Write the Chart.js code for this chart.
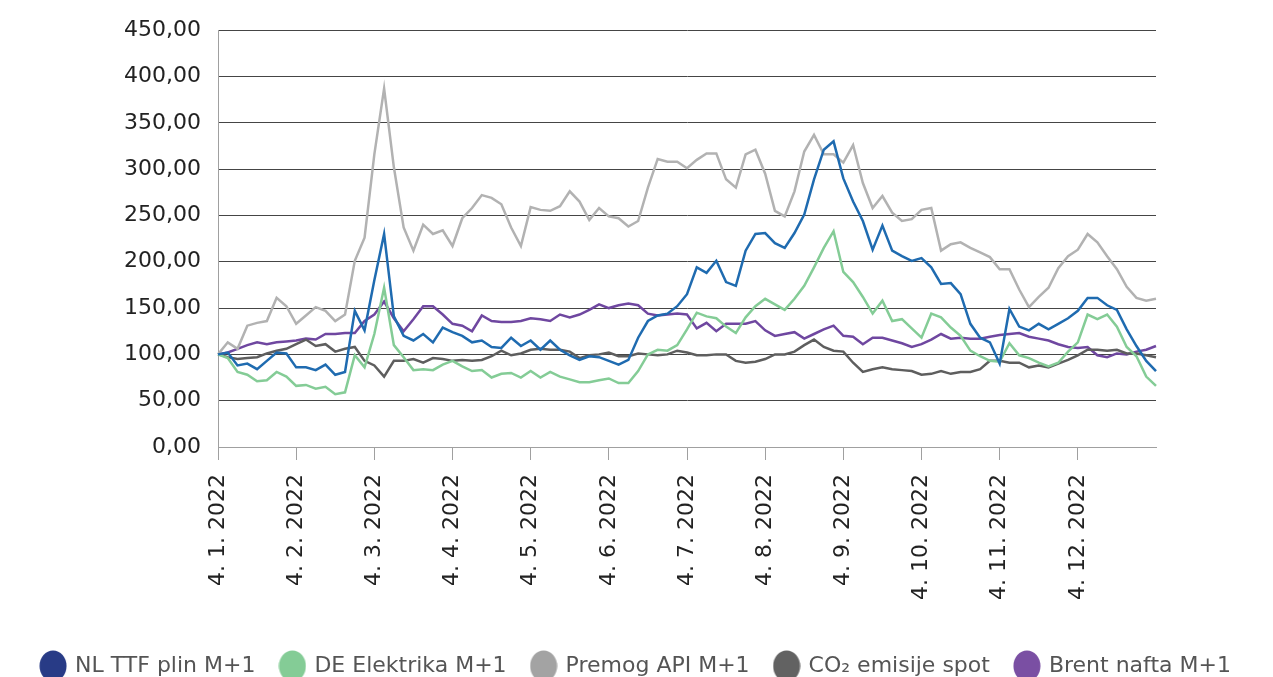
<!DOCTYPE html>
<html>
<head>
<meta charset="utf-8">
<script src="https://cdn.jsdelivr.net/npm/chart.js@4.4.1/dist/chart.umd.min.js"></script>
<style>
  html, body { margin: 0; padding: 0; background: #fff; }
  #wrap { width: 1273px; height: 677px; position: relative; }
</style>
</head>
<body>
<div id="wrap"><canvas id="chart"></canvas></div>
<script>
// tick labels, one every 8 points
const monthTicks = ['4. 1. 2022', '4. 2. 2022', '4. 3. 2022', '4. 4. 2022', '4. 5. 2022', '4. 6. 2022',
  '4. 7. 2022', '4. 8. 2022', '4. 9. 2022', '4. 10. 2022', '4. 11. 2022', '4. 12. 2022'];
const pointsPerMonth = 8;

const seriesNames = ['NL TTF plin M+1', 'DE Elektrika M+1', 'Premog API M+1', 'CO\u2082 emisije spot', 'Brent nafta M+1'];

const ttf = [100, 102, 88, 90, 84, 93, 102, 101, 86, 86, 83, 89, 78, 81, 147, 126,
  180, 230, 141, 120, 115, 122, 113, 129, 124, 120, 113, 115, 108, 107, 118, 109,
  115, 105, 115, 105, 99, 94, 98, 97, 93, 89, 94, 118, 136, 142, 144, 152,
  165, 194, 188, 201, 178, 174, 212, 230, 231, 220, 215, 231, 251, 289, 321, 330,
  290, 265, 244, 213, 239, 212, 206, 201, 204, 194, 176, 177, 165, 133, 118, 113,
  90, 149, 130, 126, 133, 127, 133, 139, 147, 161, 161, 153, 148, 127, 109, 93, 82];

const elektrika = [100, 96, 81, 78, 71, 72, 81, 76, 66, 67, 63, 65, 57, 59, 99, 86,
  122, 172, 110, 97, 83, 84, 83, 89, 93, 87, 82, 83, 75, 79, 80, 75,
  82, 75, 81, 76, 73, 70, 70, 72, 74, 69, 69, 82, 100, 105, 104, 110,
  127, 145, 141, 139, 130, 123, 140, 152, 160, 154, 148, 160, 174, 194, 215, 233,
  189, 178, 162, 144, 158, 136, 138, 128, 118, 144, 140, 129, 120, 104, 98, 93,
  92, 112, 99, 96, 91, 87, 91, 103, 113, 143, 138, 143, 130, 108, 98, 76, 66];

const premog = [100, 113, 106, 131, 134, 136, 161, 152, 133, 142, 151, 147, 136, 143, 201, 226,
  316, 387, 302, 237, 212, 240, 230, 234, 217, 247, 258, 272, 269, 262, 237, 217,
  259, 256, 255, 260, 276, 265, 245, 258, 249, 247, 238, 244, 280, 311, 308, 308,
  301, 310, 317, 317, 289, 280, 316, 321, 295, 255, 249, 276, 319, 337, 316, 316,
  307, 326, 285, 258, 271, 253, 244, 246, 256, 258, 212, 219, 221, 215, 210, 205,
  192, 192, 170, 151, 162, 172, 193, 206, 213, 230, 221, 206, 192, 173, 161, 158, 160];

const co2 = [100, 97, 95, 96, 97, 101, 104, 106, 111, 116, 109, 111, 103, 106, 108, 93,
  88, 76, 93, 93, 95, 91, 96, 95, 93, 94, 93, 94, 98, 104, 99, 101,
  105, 106, 105, 105, 103, 96, 99, 100, 102, 98, 98, 101, 100, 99, 100, 104,
  102, 99, 99, 100, 100, 93, 91, 92, 95, 100, 100, 103, 110, 116, 108, 104,
  103, 91, 81, 84, 86, 84, 83, 82, 78, 79, 82, 79, 81, 81, 84, 93,
  93, 91, 91, 86, 88, 86, 90, 94, 99, 105, 105, 104, 105, 101, 101, 99, 97];

const brent = [100, 102, 106, 110, 113, 111, 113, 114, 115, 117, 116, 122, 122, 123, 123, 136,
  143, 157, 139, 125, 138, 152, 152, 143, 133, 131, 125, 142, 136, 135, 135, 136,
  139, 138, 136, 143, 140, 143, 148, 154, 150, 153, 155, 153, 144, 142, 143, 144,
  143, 128, 134, 125, 133, 133, 133, 136, 126, 120, 122, 124, 117, 122, 127, 131,
  120, 119, 111, 118, 118, 115, 112, 108, 111, 116, 122, 117, 118, 117, 117, 119,
  121, 122, 123, 119, 117, 115, 111, 108, 107, 108, 99, 97, 101, 100, 103, 105, 109];

const lineColors = ['#1f6bb0', '#84cc96', '#b2b2b2', '#5e5e5e', '#6f47a0'];
const legendColors = ['#283b86', '#84cc96', '#a3a3a3', '#626262', '#7a4fa3'];

// category labels: a month label every 8 points, blanks between
const categories = ttf.map((v, i) =>
  i % pointsPerMonth === 0 && monthTicks[i / pointsPerMonth] ? monthTicks[i / pointsPerMonth] : '');

// ellipse markers for the legend
function makeMarker(color) {
  const c = document.createElement('canvas');
  c.width = 28;
  c.height = 32;
  const g = c.getContext('2d');
  g.fillStyle = color;
  g.beginPath();
  g.ellipse(14, 16, 13.5, 15.5, 0, 0, Math.PI * 2);
  g.fill();
  return c;
}
const markers = legendColors.map(makeMarker);

const values = [ttf, elektrika, premog, co2, brent];
const datasets = values.map((data, i) => ({
  label: seriesNames[i],
  data: data,
  borderColor: lineColors[i],
  backgroundColor: legendColors[i],
  borderWidth: 2.5,
  pointRadius: 0,
  tension: 0,
  fill: false
}));

new Chart(document.getElementById('chart'), {
  type: 'line',
  data: { labels: categories, datasets: datasets },
  options: {
    responsive: true,
    maintainAspectRatio: false,
    animation: false,
    layout: { padding: { top: 28, right: 0, bottom: -10, left: 0 } },
    plugins: {
      tooltip: { enabled: false },
      legend: {
        position: 'bottom',
        labels: {
          usePointStyle: true,
          boxWidth: 28,
          boxHeight: 22,
          padding: 26,
          color: '#555555',
          font: { family: 'DejaVu Sans', size: 22 },
          generateLabels: (chart) => {
            const items = Chart.defaults.plugins.legend.labels.generateLabels(chart);
            items.forEach((it, i) => { it.pointStyle = markers[i]; });
            return items;
          }
        }
      }
    },
    scales: {
      x: {
        type: 'category',
        offset: false,
        afterFit: (s) => { s.height = 182; },
        grid: {
          drawOnChartArea: false,
          tickLength: 13,
          color: (ctx) => (categories[ctx.index] ? '#a0a0a0' : 'rgba(0,0,0,0)')
        },
        border: { color: '#a0a0a0', width: 1 },
        ticks: {
          autoSkip: false,
          minRotation: 90,
          maxRotation: 90,
          padding: 14,
          color: '#222222',
          font: { family: 'DejaVu Sans', size: 22 }
        }
      },
      y: {
        min: 0,
        max: 450,
        afterFit: (s) => { s.width = 218; },
        grid: {
          drawTicks: false,
          color: (ctx) => (ctx.tick && ctx.tick.value === 0 ? '#a0a0a0' : '#454545')
        },
        border: { color: '#a0a0a0', width: 1 },
        ticks: {
          stepSize: 50,
          padding: 17,
          color: '#222222',
          font: { family: 'DejaVu Sans', size: 22 },
          callback: (v) => v.toFixed(2).replace('.', ',')
        }
      },
      yRight: {
        position: 'right',
        display: true,
        afterFit: (s) => { s.width = 117; },
        grid: { display: false },
        border: { display: false },
        ticks: { display: false }
      }
    }
  }
});
</script>
</body>
</html>
